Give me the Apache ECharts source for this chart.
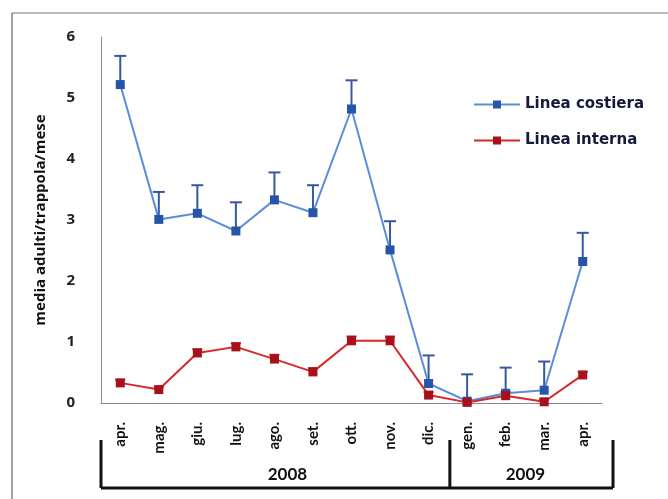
<!DOCTYPE html>
<html>
<head>
<meta charset="utf-8">
<script src="https://cdn.jsdelivr.net/npm/echarts@6/dist/echarts.min.js"></script>
<style>
html,body{margin:0;padding:0;background:#fff;}
#c{width:668px;height:499px;}
</style>
</head>
<body>
<div id="c"></div>
<script>
var months = ['apr.','mag.','giu.','lug.','ago.','set.','ott.','nov.','dic.','gen.','feb.','mar.','apr.'];
var years = ['2008','2009'];
var yearCounts = [9, 4];
var yTicks = [0,1,2,3,4,5,6];
var costiera = [5.22, 3.01, 3.11, 2.82, 3.33, 3.12, 4.82, 2.51, 0.32, 0.03, 0.16, 0.21, 2.32];
var costieraErr = [0.47, 0.45, 0.46, 0.47, 0.45, 0.45, 0.47, 0.47, 0.46, 0.44, 0.42, 0.47, 0.47];
var interna = [0.33, 0.22, 0.82, 0.92, 0.72, 0.51, 1.02, 1.02, 0.13, 0.01, 0.12, 0.02, 0.46];
var internaErr = [0.05, 0.04, 0.06, 0.06, 0.07, 0.06, 0.07, 0.07, 0.05, 0.04, 0.06, 0.04, 0.05];
var seriesNames = ['Linea costiera', 'Linea interna'];
var yTitle = 'media adulti/trappola/mese';

(function(){
var chart = echarts.init(document.getElementById('c'), null, {renderer:'canvas'});

function errData(vals, errs){
  return vals.map(function(v,i){ return [i, v, v + errs[i]]; });
}
function errSeries(vals, errs, color, capW){
  return {
    type:'custom',
    data: errData(vals, errs),
    z: 1,
    silent: true,
    renderItem: function(params, api){
      var p0 = api.coord([api.value(0), api.value(1)]);
      var p1 = api.coord([api.value(0), api.value(2)]);
      return {
        type:'group',
        children:[
          {type:'line', shape:{x1:p0[0], y1:p0[1], x2:p1[0], y2:p1[1]}, style:{stroke:color, lineWidth:2}},
          {type:'line', shape:{x1:p1[0]-capW/2, y1:p1[1], x2:p1[0]+capW/2, y2:p1[1]}, style:{stroke:color, lineWidth:2}}
        ]
      };
    }
  };
}

var option = {
  animation:false,
  backgroundColor:'#fff',
  grid:{left:101, right:66, top:37, bottom:96},
  legend:{
    orient:'vertical', left:468, top:92, itemGap:22,
    itemWidth:46, itemHeight:10, itemGap:21,
    textStyle:{fontFamily:'DejaVu Sans', fontWeight:'bold', fontSize:15, color:'#151a3a'},
    data:seriesNames
  },
  xAxis:{
    type:'category', data:months, boundaryGap:true,
    axisLine:{lineStyle:{color:'#8a8a8a', width:1}},
    axisTick:{show:false},
    axisLabel:{rotate:90, margin:19, fontFamily:'Lato', fontWeight:'bold', fontSize:15, color:'#111', interval:0}
  },
  yAxis:{
    type:'value', min:0, max:6, interval:1,
    name: yTitle, nameLocation:'middle', nameGap:53, nameRotate:90,
    nameTextStyle:{fontFamily:'Open Sans', fontWeight:'bold', fontSize:15, color:'#111'},
    axisLine:{show:true, lineStyle:{color:'#8a8a8a', width:1}},
    axisTick:{show:false},
    splitLine:{show:false},
    axisLabel:{margin:26, fontFamily:'Open Sans', fontWeight:'bold', fontSize:15, color:'#222',
      formatter:function(v){ return yTicks.indexOf(v) >= 0 ? String(v) : ''; }}
  },
  series:[
    errSeries(costiera, costieraErr, '#3558a0', 12),
    errSeries(interna, internaErr, '#b01a22', 10),
    {
      name:seriesNames[0], type:'line', data:costiera, z:3,
      symbol:'rect', symbolSize:9,
      lineStyle:{color:'#5a8ddb', width:2},
      itemStyle:{color:'#2654a8'}
    },
    {
      name:seriesNames[1], type:'line', data:interna, z:3,
      symbol:'rect', symbolSize:9,
      lineStyle:{color:'#d82828', width:2},
      itemStyle:{color:'#a8101c'}
    }
  ]
};
chart.setOption(option);

// Year brackets below the axis, positioned from the category scale
var pA = chart.convertToPixel({gridIndex:0}, [0, 0]);
var pB = chart.convertToPixel({gridIndex:0}, [1, 0]);
var c0 = pA[0];
var band = pB[0] - pA[0];
var yBase = pA[1];
var bounds = [c0 - band/2];
var acc = 0;
for (var k = 0; k < yearCounts.length; k++) {
  acc += yearCounts[k];
  bounds.push(c0 + (acc - 1) * band + band/2);
}
bounds[bounds.length-1] += 11;
bounds[1] += 2;
var bTop = yBase + 37, bBot = yBase + 85;
var els = [];
for (var j = 0; j < bounds.length; j++) {
  els.push({type:'line', shape:{x1:bounds[j], y1:bTop, x2:bounds[j], y2:bBot}, style:{stroke:'#111', lineWidth:3}});
}
els.push({type:'line', shape:{x1:bounds[0], y1:bBot, x2:bounds[bounds.length-1], y2:bBot}, style:{stroke:'#111', lineWidth:3}});
var yearOffsets = [12, -6];
for (var i = 0; i < years.length; i++) {
  els.push({type:'text', x:(bounds[i]+bounds[i+1])/2 + yearOffsets[i], y:bBot-13,
    style:{text:years[i], fontFamily:'Lato', fontWeight:'bold', fontSize:17, fill:'#111', align:'center', verticalAlign:'middle'}});
}
// outer frame
els.push({type:'line', shape:{x1:12, y1:13, x2:668, y2:13}, style:{stroke:'#777', lineWidth:1}});
els.push({type:'line', shape:{x1:12, y1:13, x2:12, y2:499}, style:{stroke:'#444', lineWidth:1}});
chart.setOption({graphic:{elements:els}});
})();
</script>
</body>
</html>
